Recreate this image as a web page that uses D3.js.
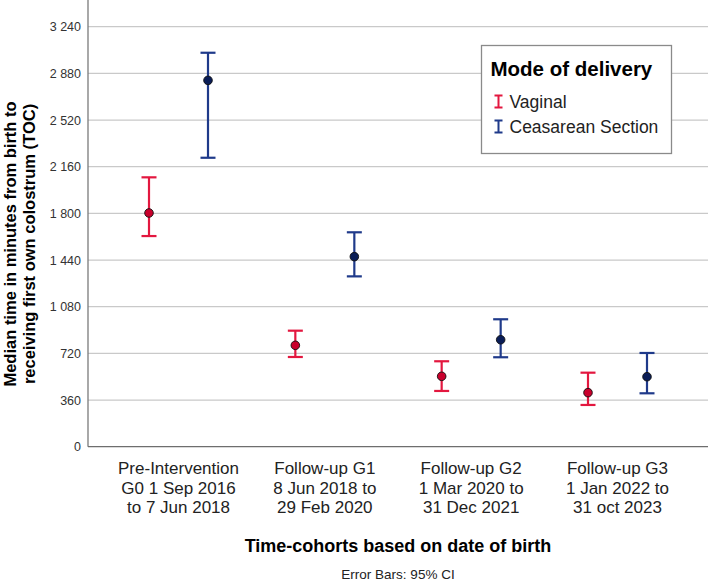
<!DOCTYPE html>
<html>
<head>
<meta charset="utf-8">
<script src="https://cdn.jsdelivr.net/npm/d3@7"></script>
<style>
  body { margin: 0; background: #fff; }
  text { font-family: "Liberation Sans", Arial, sans-serif; }
</style>
</head>
<body>
<div id="chart"></div>
<script>
// cohorts on the x axis (three text lines each)
var cohorts = ["G0", "G1", "G2", "G3"]
var cohortLabels = [
    ["Pre-Intervention", "G0 1 Sep 2016", "to 7 Jun 2018"],
    ["Follow-up G1", "8 Jun 2018 to", "29 Feb 2020"],
    ["Follow-up G2", "1 Mar 2020 to", "31 Dec 2021"],
    ["Follow-up G3", "1 Jan 2022 to", "31 oct 2023"]
]
var modes = ["Vaginal", "Ceasarean Section"]

// medians and 95% CI, minutes
var vaginalMedian = [1803, 782, 543, 417]
var vaginalLow = [1625, 692, 430, 322]
var vaginalHigh = [2078, 895, 659, 571]
var cesareanMedian = [2826, 1466, 825, 540]
var cesareanLow = [2229, 1314, 690, 412]
var cesareanHigh = [3039, 1654, 983, 723]

var yTicks = [0, 360, 720, 1080, 1440, 1800, 2160, 2520, 2880, 3240]

var width = 708, height = 581
var plotLeft = 88, plotBottom = 446.7, plotTop = 26.7

var lineCol = { "Vaginal": "#e3173f", "Ceasarean Section": "#1f3a8a" }
var dotCol = { "Vaginal": "#c9002c", "Ceasarean Section": "#0a1d57" }

var svg = d3.select("#chart").append("svg")
    .attr("width", width)
    .attr("height", height)

var x = d3.scalePoint().domain(cohorts).range([178.5, 617.5])
var xMode = d3.scalePoint().domain(modes).range([-29.5, 29.5])
var y = d3.scaleLinear().domain([0, 3240]).range([plotBottom, plotTop])

var fmt = d3.formatLocale({ decimal: ",", thousands: " ", grouping: [3], currency: ["", ""] }).format(",d")

// grid lines
svg.append("g")
    .selectAll("line")
    .data(yTicks.slice(1))
    .enter().append("line")
    .attr("x1", plotLeft).attr("x2", width)
    .attr("y1", function (d) { return y(d) })
    .attr("y2", function (d) { return y(d) })
    .attr("stroke", "#c9c9c9")
    .attr("stroke-width", 1.3)

// y axis (labels only, no ticks)
var yAxis = svg.append("g")
    .attr("transform", "translate(" + plotLeft + ",0)")
    .call(d3.axisLeft(y).tickValues(yTicks).tickSize(0).tickPadding(7).tickFormat(fmt))
yAxis.select(".domain").remove()
yAxis.selectAll("text")
    .style("font-size", "12.5px")
    .style("fill", "#333")

svg.append("line")
    .attr("x1", plotLeft).attr("x2", plotLeft)
    .attr("y1", 0).attr("y2", plotBottom)
    .attr("stroke", "#7a7a7a").attr("stroke-width", 1.3)
svg.append("line")
    .attr("x1", plotLeft).attr("x2", width)
    .attr("y1", plotBottom).attr("y2", plotBottom)
    .attr("stroke", "#6e6e6e").attr("stroke-width", 1.3)

// x labels
var xl = svg.append("g").selectAll("text")
    .data(cohorts)
    .enter().append("text")
    .attr("text-anchor", "middle")
    .style("font-size", "17px")
    .style("fill", "#222")
xl.each(function (d, i) {
    var t = d3.select(this)
    cohortLabels[i].forEach(function (s, k) {
        t.append("tspan")
            .attr("x", x(d))
            .attr("y", 474 + k * 19.5)
            .text(s)
    })
})

// error bars
var rows = []
cohorts.forEach(function (c, i) {
    rows.push({ c: c, m: "Vaginal", med: vaginalMedian[i], lo: vaginalLow[i], hi: vaginalHigh[i] })
    rows.push({ c: c, m: "Ceasarean Section", med: cesareanMedian[i], lo: cesareanLow[i], hi: cesareanHigh[i] })
})

var g = svg.append("g").selectAll("g")
    .data(rows)
    .enter().append("g")
    .attr("transform", function (d) { return "translate(" + (x(d.c) + xMode(d.m)) + ",0)" })

g.append("line")
    .attr("y1", function (d) { return y(d.lo) })
    .attr("y2", function (d) { return y(d.hi) })
    .attr("stroke", function (d) { return lineCol[d.m] })
    .attr("stroke-width", 2.2)
g.selectAll("line.cap")
    .data(function (d) { return [{ v: d.lo, m: d.m }, { v: d.hi, m: d.m }] })
    .enter().append("line")
    .attr("class", "cap")
    .attr("x1", -7.5).attr("x2", 7.5)
    .attr("y1", function (d) { return y(d.v) })
    .attr("y2", function (d) { return y(d.v) })
    .attr("stroke", function (d) { return lineCol[d.m] })
    .attr("stroke-width", 2.2)
g.append("circle")
    .attr("cy", function (d) { return y(d.med) })
    .attr("r", 4.3)
    .attr("fill", function (d) { return dotCol[d.m] })
    .attr("stroke", "#111")
    .attr("stroke-width", 0.9)

// legend
var lg = svg.append("g").attr("transform", "translate(481.5,45.5)")
lg.append("rect")
    .attr("width", 190).attr("height", 108)
    .attr("fill", "#fff")
    .attr("stroke", "#8a8a8a")
    .attr("stroke-width", 1.3)
lg.append("text")
    .attr("x", 9).attr("y", 30)
    .style("font-size", "20.5px")
    .style("font-weight", "bold")
    .text("Mode of delivery")
var li = lg.selectAll("g.item")
    .data(modes)
    .enter().append("g")
    .attr("class", "item")
    .attr("transform", function (d, i) { return "translate(17," + (62 + i * 25) + ")" })
li.append("path")
    .attr("d", "M-4,-12H4M0,-12V0M-4,0H4")
    .attr("stroke", function (d) { return lineCol[d] })
    .attr("stroke-width", 2)
    .attr("fill", "none")
li.append("text")
    .attr("x", 11).attr("y", 0)
    .style("font-size", "17.5px")
    .style("fill", "#222")
    .text(function (d) { return d })

// axis titles
svg.append("text")
    .attr("transform", "translate(16,244) rotate(-90)")
    .attr("text-anchor", "middle")
    .style("font-size", "16.5px")
    .style("font-weight", "bold")
    .text("Median time in minutes from birth to")
svg.append("text")
    .attr("transform", "translate(35,244) rotate(-90)")
    .attr("text-anchor", "middle")
    .style("font-size", "16.5px")
    .style("font-weight", "bold")
    .text("receiving first own colostrum (TOC)")

svg.append("text")
    .attr("x", 398).attr("y", 552)
    .attr("text-anchor", "middle")
    .style("font-size", "18px")
    .style("font-weight", "bold")
    .text("Time-cohorts based on date of birth")

svg.append("text")
    .attr("x", 398).attr("y", 579)
    .attr("text-anchor", "middle")
    .style("font-size", "13.5px")
    .style("fill", "#222")
    .text("Error Bars: 95% CI")
</script>
</body>
</html>
